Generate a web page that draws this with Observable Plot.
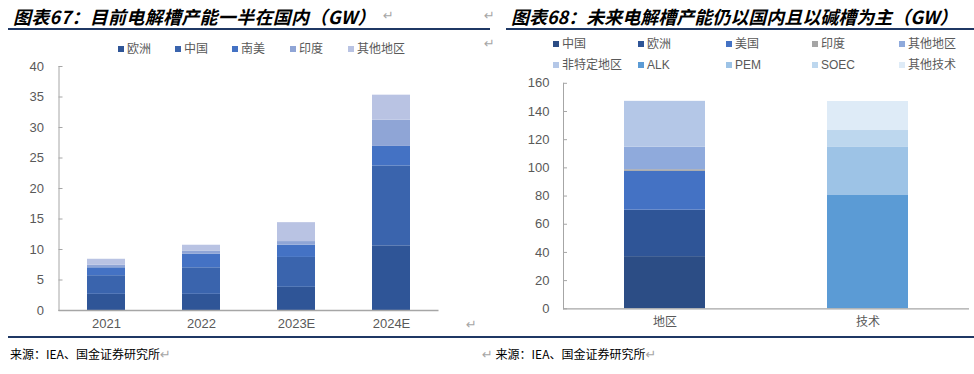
<!DOCTYPE html>
<html><head><meta charset="utf-8">
<script src="https://cdn.jsdelivr.net/npm/d3@7"></script>
<script src="https://cdn.jsdelivr.net/npm/@observablehq/plot@0.6"></script>
<style>
body{margin:0;width:974px;height:374px;position:relative;background:#fff;overflow:hidden;font-family:"Liberation Sans","Noto Sans CJK SC",sans-serif}
.abs{position:absolute}
.title{font-family:"Noto Sans CJK SC";font-weight:700;font-style:italic;font-size:18px;color:#000;white-space:nowrap;line-height:20px}
.rule{height:2px;background:#1f3864}
.leg{font-family:"Liberation Sans","Noto Sans CJK SC";font-size:12px;color:#595959;white-space:nowrap;line-height:14px;display:flex;align-items:center}
.sw{width:6px;height:6px;display:inline-block;margin-right:3px}
.src{font-family:"Noto Sans CJK SC";font-size:12px;color:#000;white-space:nowrap;line-height:14px}
.ret{color:#a6a6a6;font-size:13px;font-family:"DejaVu Sans";line-height:14px}
svg{position:absolute}
</style></head><body>
<script>
// ---- Left chart data ----
const years = ["2021", "2022", "2023E", "2024E"];
const regionsL = ["欧洲", "中国", "南美", "印度", "其他地区"];
const europeL = [2.65, 2.65, 3.8, 10.6];
const chinaL = [3.05, 4.35, 4.9, 13.1];
const southAmericaL = [1.3, 2.25, 2.0, 3.2];
const indiaL = [0.45, 0.5, 0.6, 4.3];
const otherL = [0.95, 0.95, 3.1, 4.1];
const colorsL = ["#2f5597", "#3a64ad", "#4472c4", "#8fa5d6", "#b9c3e3"];
const yTicksL = [0, 5, 10, 15, 20, 25, 30, 35, 40];

// ---- Right chart data ----
const cats = ["地区", "技术"];
const seriesR = ["中国", "欧洲", "美国", "印度", "其他地区", "非特定地区", "ALK", "PEM", "SOEC", "其他技术"];
const regionCat = ["中国", "欧洲", "美国", "印度", "其他地区", "非特定地区"];
const regionVals = [37, 33, 27.5, 1.2, 16, 32.5];
const techCat = ["ALK", "PEM", "SOEC", "其他技术"];
const techVals = [80.4, 34.1, 12, 20.6];
const colorsR = ["#2c4d85", "#2f5597", "#4472c4", "#a5a5a5", "#8faadc", "#b4c7e7", "#5b9bd5", "#9dc3e6", "#bdd7ee", "#deebf7"];
const yTicksR = [0, 20, 40, 60, 80, 100, 120, 140, 160];

// ---- build tables ----
const seriesArraysL = [europeL, chinaL, southAmericaL, indiaL, otherL];
const dataL = [];
regionsL.forEach((s, i) => years.forEach((y, j) => dataL.push({year: y, series: s, value: seriesArraysL[i][j]})));
const dataR = [];
regionCat.forEach((s, i) => dataR.push({cat: "地区", series: s, value: regionVals[i]}));
techCat.forEach((s, i) => dataR.push({cat: "技术", series: s, value: techVals[i]}));

const axisStyle = {fontFamily: "'Liberation Sans', 'Noto Sans CJK SC', sans-serif", fontSize: "13px", color: "#595959", background: "transparent", overflow: "visible"};

function el(html, cls, left, top, extra = "") {
  const d = document.createElement("div");
  d.className = "abs " + cls;
  d.style.cssText = `left:${left}px;top:${top}px;${extra}`;
  d.innerHTML = html;
  document.body.appendChild(d);
  return d;
}

// titles & rules
el("图表67：目前电解槽产能一半在国内（GW）", "title", 13, 6, "letter-spacing:0.3px");
el("↵", "ret", 383, 9);
el("", "rule", 8, 28, "width:482px");
el("↵", "ret", 484, 9);
el("图表68：未来电解槽产能仍以国内且以碱槽为主（GW）", "title", 511, 6);
el("", "rule", 506, 28, "width:468px");
el("↵", "ret", 484, 37);
el("↵", "ret", 466, 318);
el("", "rule", 8, 336, "width:966px;height:1.5px");
el("来源：IEA、国金证券研究所<span class='ret'>↵</span>", "src", 10, 347);
el("<span class='ret'>↵</span> 来源：IEA、国金证券研究所<span class='ret'>↵</span>", "src", 482, 347);

// legends
const legXL = [118, 175, 232, 290, 348];
regionsL.forEach((s, i) => el(`<span class="sw" style="background:${colorsL[i]}"></span>${s}`, "leg", legXL[i], 42));
const legXR = [553, 638, 726, 812, 899];
seriesR.forEach((s, i) => el(`<span class="sw" style="background:${colorsR[i]}"></span>${s}`, "leg", legXR[i % 5], i < 5 ? 37 : 58));

// left plot
const plotL = Plot.plot({
  width: 490, height: 280,
  marginLeft: 58.5, marginRight: 51.5, marginTop: 11, marginBottom: 25,
  style: axisStyle,
  x: {domain: years, paddingInner: 0.6, paddingOuter: 0.3, label: null},
  y: {domain: [0, 40], label: null},
  color: {domain: regionsL, range: colorsL},
  marks: [
    Plot.barY(dataL, {x: "year", y: "value", fill: "series"}),
    Plot.axisY({ticks: yTicksL, tickSize: -4, tickPadding: 19, stroke: "#a6a6a6", label: null}),
    Plot.axisX({tickSize: 0, tickPadding: 8, label: null}),
    Plot.frame({anchor: "left", stroke: "#a6a6a6"}),
    Plot.ruleY([0], {stroke: "#a6a6a6", strokeWidth: 1.3})
  ]
});
plotL.style.left = "0px"; plotL.style.top = "55px";
document.body.appendChild(plotL);

// right plot
const plotR = Plot.plot({
  width: 484, height: 280,
  marginLeft: 73, marginRight: 5, marginTop: 27.8, marginBottom: 26.7,
  style: axisStyle,
  x: {domain: cats, paddingInner: 0.6, paddingOuter: 0.3, label: null},
  y: {domain: [0, 160], label: null},
  color: {domain: seriesR, range: colorsR},
  marks: [
    Plot.barY(dataR, {x: "cat", y: "value", fill: "series"}),
    Plot.axisY({ticks: yTicksR, tickSize: -4, tickPadding: 18, stroke: "#a6a6a6", label: null}),
    Plot.axisX({tickSize: 0, tickPadding: 9, label: null, fontSize: 12}),
    Plot.frame({anchor: "left", stroke: "#a6a6a6"}),
    Plot.ruleY([0], {stroke: "#a6a6a6", strokeWidth: 1.3})
  ]
});
plotR.style.left = "490px"; plotR.style.top = "55px";
document.body.appendChild(plotR);
</script>
</body></html>
